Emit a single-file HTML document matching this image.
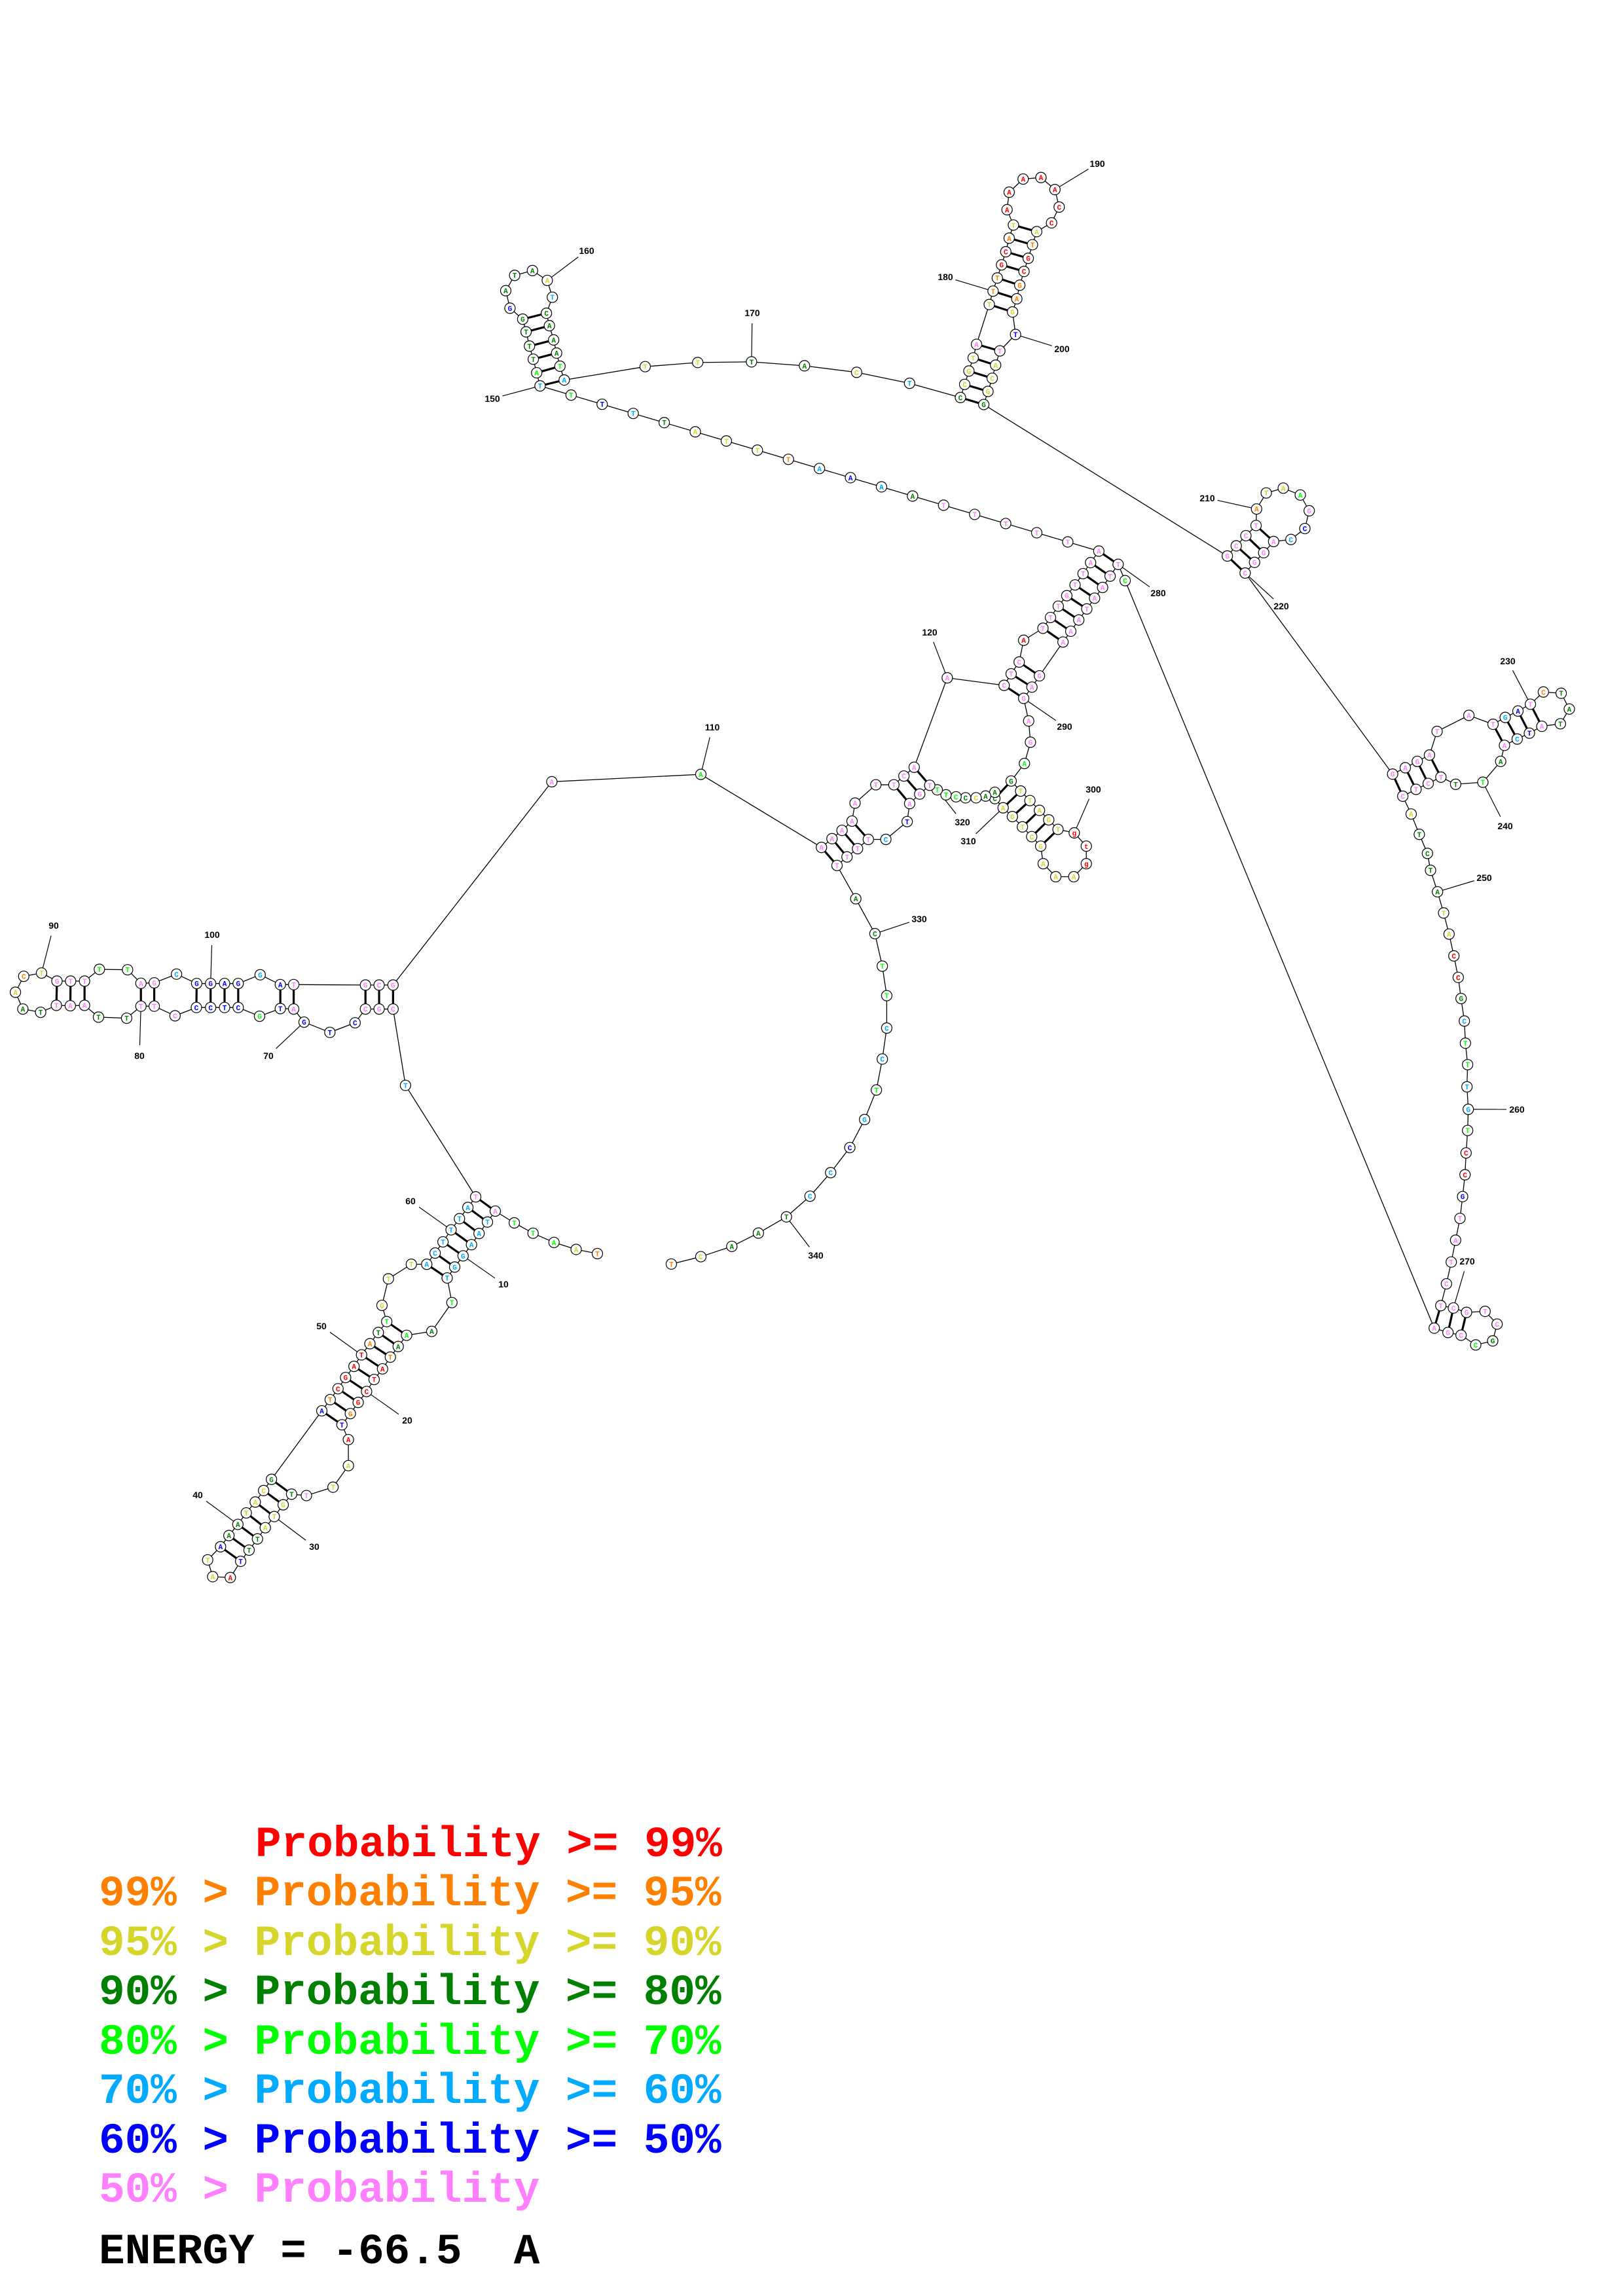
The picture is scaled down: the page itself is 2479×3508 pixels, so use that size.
<!DOCTYPE html>
<html><head><meta charset="utf-8">
<style>
html,body{margin:0;padding:0;background:#fff;}
svg{display:block;}
.nt{font-family:"Liberation Mono",monospace;font-weight:bold;font-size:11px;}
.lb{font-family:"Liberation Sans",sans-serif;font-weight:bold;font-size:14px;}
.lg{font-family:"Liberation Mono",monospace;font-weight:bold;font-size:66px;white-space:pre;}
</style></head><body>
<svg id="s" width="2479" height="3508" viewBox="0 0 2479 3508" xmlns="http://www.w3.org/2000/svg">
<g id="lines"></g><g id="nodes"></g><g id="labels"></g>
<g class="lg">
<text x="390" y="2836" fill="#ff0000">Probability &gt;=&#160;99%</text>
<text x="151" y="2911" fill="#ff8000">99% &gt; Probability &gt;=&#160;95%</text>
<text x="151" y="2987" fill="#d5d52b">95% &gt; Probability &gt;=&#160;90%</text>
<text x="151" y="3062" fill="#008000">90% &gt; Probability &gt;=&#160;80%</text>
<text x="151" y="3138" fill="#00ff00">80% &gt; Probability &gt;=&#160;70%</text>
<text x="151" y="3213" fill="#00aaff">70% &gt; Probability &gt;=&#160;60%</text>
<text x="151" y="3289" fill="#0000ff">60% &gt; Probability &gt;=&#160;50%</text>
<text x="151" y="3364" fill="#ff80ff">50% &gt; Probability</text>
<text x="151" y="3458" fill="#000">ENERGY = -66.5&#160;&#160;A</text>
</g>
</svg>
<script>
var C={r:"#ff0000",o:"#ff8000",y:"#d5d52b",D:"#008000",g:"#00ff00",c:"#00aaff",b:"#0000ff",p:"#ff80ff"};
var N={};
function F(ox,oy,fx,fy,list){list.forEach(function(a){N[a[0]]=[ox+a[1]/fx,oy+a[2]/fy,a[3],a[4]];});}
F(280,1800,2.34,2.34,[
[1,1480,270,"T","o"],[2,1404,255,"A","y"],[3,1325,230,"A","g"],[4,1250,197,"T","g"],[5,1183,160,"T","g"],
[6,1115,118,"A","p"],[7,1087,157,"T","c"],[8,1057,198,"A","c"],[9,1030,238,"A","c"],[10,1000,278,"G","c"],
[11,970,318,"G","c"],[12,943,357,"T","c"],[13,960,445,"T","g"],[14,888,548,"A","D"],[15,798,562,"A","g"],
[16,768,602,"A","D"],[17,740,640,"T","o"],[18,712,682,"A","r"],[19,682,720,"T","r"],[20,655,763,"C","r"],
[21,625,802,"G","r"],[22,597,842,"G","o"],[23,567,882,"T","b"],[24,590,935,"A","r"],[25,590,1028,"A","y"],
[26,535,1105,"T","y"],[27,440,1135,"T","p"],[28,387,1130,"T","D"],[29,357,1168,"G","y"],[30,325,1210,"T","y"],
[31,293,1250,"A","y"],[32,265,1290,"T","D"],[33,235,1330,"T","D"],[34,205,1370,"T","b"],[35,168,1428,"A","r"],
[36,105,1425,"A","y"],[37,87,1365,"T","y"],[38,133,1318,"A","b"],[39,163,1278,"A","D"],[40,195,1238,"A","D"],
[41,225,1197,"T","y"],[42,257,1158,"A","y"],[43,287,1117,"C","y"],[44,315,1077,"G","D"],[45,495,832,"A","b"],
[46,525,792,"T","o"],[47,553,753,"C","r"],[48,580,713,"G","r"],[49,610,673,"A","r"],[50,637,632,"T","r"],
[51,667,592,"A","o"],[52,697,552,"T","D"],[53,727,513,"T","g"],[54,710,455,"G","y"],[55,733,360,"T","y"],
[56,815,308,"T","y"],[57,870,308,"A","c"],[58,900,268,"C","c"],[59,928,228,"T","c"],[60,957,185,"T","c"],
[61,987,145,"T","c"],[62,1017,105,"A","c"],[63,1045,67,"T","p"]]);
F(0,1380,2.207,3,[
[64,1367,835,"T","c"],[65,1325,485,"C","p"],[66,1278,485,"G","p"],[67,1232,485,"C","p"],[68,1197,548,"C","b"],
[69,1112,592,"T","b"],[70,1025,545,"G","b"],[71,990,485,"A","p"],[72,945,483,"T","b"],[73,875,518,"G","g"],
[74,803,478,"C","b"],[75,757,478,"T","b"],[76,710,478,"C","b"],[77,662,478,"C","b"],[78,590,516,"C","p"],
[79,520,472,"T","p"],[80,475,472,"T","p"],[81,427,527,"T","D"],[82,332,522,"T","D"],[83,285,468,"A","p"],
[84,237,470,"A","p"],[85,190,468,"T","p"],[86,137,500,"T","D"],[87,77,485,"A","D"],[88,52,408,"A","y"],
[89,80,335,"C","o"],[90,140,320,"T","y"],[91,192,357,"G","p"],[92,238,357,"T","p"],[93,285,357,"T","p"],
[94,335,303,"T","g"],[95,430,305,"T","g"],[96,475,367,"A","p"],[97,520,365,"G","p"],[98,595,325,"C","c"],
[99,663,368,"G","b"],[100,710,368,"G","b"],[101,757,368,"A","b"],[102,803,368,"G","b"],[103,877,328,"G","c"],
[104,945,373,"A","b"],[105,990,373,"T","p"],[106,1232,375,"G","p"],[107,1278,375,"C","p"],[108,1325,375,"G","p"]]);
F(0,0,1/2.2536,1/2.2536,[[109,374,530,"A","p"],[110,475,525,"A","g"],
[329,593,633,"C","D"],[330,598,655,"T","g"],[331,601,675,"T","g"],[332,601,697,"C","c"],[333,598,718,"C","c"],
[334,594,739,"T","g"],[335,586,759,"G","c"],[336,576,778,"C","b"],[337,563,795,"C","c"],[338,549,811,"C","c"],
[339,533,825,"T","D"],[340,514,836,"A","D"],[341,496,845,"A","D"],[342,475,852,"C","y"],[343,455,857,"T","o"]]);
F(1200,780,2.613,2.613,[
[111,143,1345,"A","p"],[112,185,1310,"A","p"],[113,225,1277,"A","p"],[114,265,1240,"A","p"],[115,277,1168,"A","p"],
[116,360,1095,"T","p"],[117,432,1095,"T","p"],[118,472,1060,"C","p"],[119,513,1025,"A","p"],[120,645,668,"A","p"],
[121,872,698,"C","p"],[122,900,652,"T","p"],[123,932,605,"C","p"],[124,950,518,"A","r"],[125,1027,470,"T","p"],
[126,1057,427,"T","p"],[127,1088,382,"T","p"],[128,1122,340,"G","p"],[129,1155,297,"T","p"],[130,1187,252,"T","p"],
[131,1217,208,"A","p"],[132,1250,162,"A","p"],
[279,1355,280,"C","g"],[280,1327,215,"T","p"],[281,1295,262,"T","p"],[282,1265,307,"A","p"],[283,1233,350,"A","p"],
[284,1202,393,"T","p"],[285,1170,437,"A","p"],[286,1138,482,"A","p"],[287,1107,525,"A","p"],[288,1013,660,"G","p"],
[289,983,705,"A","p"],[290,950,750,"G","p"],[291,970,840,"A","p"],[292,977,925,"G","p"],[293,953,1010,"A","g"],
[294,900,1080,"G","D"],[295,938,1120,"T","y"],[296,975,1158,"T","y"],[297,1013,1197,"A","y"],[298,1050,1235,"G","y"],
[299,1087,1273,"T","y"],[300,1152,1287,"g","r"],[301,1200,1340,"t","r"],[302,1200,1410,"g","r"],[303,1150,1462,"A","y"],
[304,1078,1462,"A","y"],[305,1028,1410,"A","y"],[306,1018,1340,"G","y"],[307,982,1302,"C","y"],[308,945,1263,"T","y"],
[309,905,1222,"G","y"],[310,868,1187,"A","y"],[311,835,1150,"C","D"],[312,835,1125,"A","D"],[313,798,1140,"A","D"],
[314,760,1147,"C","y"],[315,718,1147,"C","D"],[316,680,1143,"C","g"],[317,640,1135,"T","g"],[318,605,1115,"T","g"],
[319,575,1097,"T","p"],[320,535,1132,"G","p"],[321,495,1170,"A","p"],[322,485,1242,"T","b"],[323,400,1313,"C","c"],
[324,330,1313,"T","p"],[325,287,1350,"T","p"],[326,245,1383,"T","p"],[327,205,1417,"T","p"],[328,280,1550,"A","D"]]);
F(700,200,1.545,2.99,[
[150,193,1165,"T","c"],[151,185,1105,"A","g"],[152,177,1043,"T","D"],[153,168,983,"T","D"],[154,160,918,"T","D"],
[155,152,860,"G","D"],[156,122,810,"G","b"],[157,112,730,"A","D"],[158,133,660,"T","D"],[159,175,638,"A","D"],
[160,210,683,"A","y"],[161,222,760,"T","c"],[162,208,833,"C","D"],[163,215,890,"A","D"],[164,225,955,"A","D"],
[165,232,1015,"A","D"],[166,240,1075,"T","g"],[167,250,1138,"A","c"],[168,441,1077,"T","y"],[169,565,1058,"T","y"],
[170,692,1055,"T","D"],[171,817,1073,"A","D"],[172,940,1103,"C","y"],[173,1065,1153,"T","c"],[174,1185,1218,"C","D"],
[175,1195,1158,"C","y"],[176,1205,1097,"G","y"],[177,1215,1037,"T","y"],[178,1223,975,"A","p"],[179,1253,793,"T","y"],
[180,1262,732,"T","o"],[181,1272,672,"T","o"],[182,1282,612,"G","r"],[183,1292,552,"C","r"],[184,1300,490,"A","o"],
[185,1310,430,"T","y"],[186,1295,360,"A","r"],[187,1300,280,"A","r"],[188,1333,220,"A","r"],[189,1375,213,"A","r"],
[190,1408,268,"A","r"],[191,1418,348,"C","r"],[192,1400,420,"C","r"],[193,1365,460,"A","y"],[194,1355,520,"T","o"],
[195,1345,582,"G","r"],[196,1335,642,"C","r"],[197,1325,705,"G","o"],[198,1318,767,"A","o"],[199,1308,827,"G","y"],
[200,1315,930,"T","b"],[201,1278,1005,"T","p"],[202,1268,1070,"A","y"],[203,1260,1130,"C","y"],[204,1250,1190,"G","y"],
[205,1240,1250,"G","D"]]);
F(1830,700,2.575,2.575,[
[206,115,385,"G","p"],[207,150,345,"C","p"],[208,188,305,"C","p"],[209,228,265,"T","p"],[210,230,200,"A","o"],
[211,268,137,"T","y"],[212,335,118,"A","y"],[213,402,145,"A","g"],[214,437,207,"G","p"],[215,420,277,"C","b"],
[216,365,320,"C","c"],[217,297,328,"A","p"],[218,258,372,"G","p"],[219,222,410,"G","p"],[220,185,452,"C","p"],
[221,765,1243,"G","p"],[222,815,1218,"A","p"],[223,862,1193,"G","p"],[224,910,1168,"A","p"],[225,940,1075,"T","p"],
[226,1065,1012,"A","p"],[227,1160,1047,"T","p"],[228,1208,1020,"G","c"],[229,1258,995,"A","b"],[230,1307,968,"T","p"],
[231,1358,920,"C","o"],[232,1428,925,"T","D"],[233,1460,987,"A","D"],[234,1425,1045,"T","D"],[235,1352,1055,"A","p"],
[236,1303,1082,"T","b"],[237,1255,1105,"C","c"],[238,1205,1130,"A","p"],[239,1190,1193,"A","D"],[240,1120,1275,"T","g"],
[241,1013,1283,"T","D"],[242,955,1255,"T","p"],[243,905,1280,"C","p"],[244,857,1303,"T","p"],[245,805,1330,"C","p"],
[246,838,1400,"A","y"],[247,870,1480,"T","D"],[248,902,1555,"C","D"]]);
F(2150,1300,3,1.95,[
[249,105,58,"T","D"],[250,137,122,"A","D"],[251,165,185,"T","y"],[252,190,248,"A","y"],[253,212,313,"C","r"],
[254,232,377,"C","r"],[255,245,440,"G","D"],[256,260,507,"C","c"],[257,265,573,"T","g"],[258,275,637,"T","g"],
[259,272,703,"T","c"],[260,278,770,"G","c"],[261,275,833,"T","g"],[262,268,900,"C","r"],[263,263,965,"C","r"],
[264,252,1030,"G","b"],[265,240,1095,"T","p"],[266,220,1160,"A","p"],[267,200,1225,"T","p"],[268,178,1290,"C","p"],
[269,152,1355,"T","p"],[270,210,1362,"C","p"],[271,270,1375,"G","p"],[272,355,1372,"T","p"],[273,410,1410,"C","p"],
[274,390,1460,"G","D"],[275,312,1472,"C","g"],[276,245,1443,"C","p"],[277,185,1435,"G","p"],[278,122,1422,"A","p"]]);
(function(){var a=N[132],b=N[150];
var cols={133:"p",134:"p",135:"p",136:"p",137:"p",138:"D",139:"c",140:"b",141:"c",142:"o",143:"y",144:"y",145:"y",146:"D",147:"c",148:"b",149:"g"};
var lets={133:"T",134:"T",135:"T",136:"T",137:"T",138:"A",139:"A",140:"A",141:"A",142:"T",143:"T",144:"T",145:"A",146:"T",147:"T",148:"T",149:"T"};
for(var i=133;i<150;i++){var t=(i-132)/18;N[i]=[a[0]+(b[0]-a[0])*t,a[1]+(b[1]-a[1])*t,lets[i],cols[i]];}})();
var pairs=[[6,63],[7,62],[8,61],[9,60],[10,59],[11,58],[12,57],[15,53],[16,52],[17,51],[18,50],[19,49],[20,48],[21,47],[22,46],[23,45],
[28,44],[29,43],[30,42],[31,41],[32,40],[33,39],[34,38],
[106,67],[107,66],[108,65],[104,72],[105,71],[99,77],[100,76],[101,75],[102,74],[96,80],[97,79],[91,85],[92,84],[93,83],
[111,327],[112,326],[113,325],[114,324],[117,321],[118,320],[119,319],[121,290],[122,289],[123,288],
[125,287],[126,286],[127,285],[128,284],[129,283],[130,282],[131,281],[132,280],
[294,311],[295,310],[296,309],[297,308],[298,307],[299,306],
[150,167],[151,166],[152,165],[153,164],[154,163],[155,162],
[174,205],[175,204],[176,203],[177,202],[178,201],[179,199],[180,198],[181,197],[182,196],[183,195],[184,194],[185,193],
[206,220],[207,219],[208,218],[209,217],[221,245],[222,244],[223,243],[224,242],[227,238],[228,237],[229,236],[230,235],
[269,278],[270,277],[271,276]];
var labels=[[10,10,769,1962],[20,20,622,2170],[30,30,480,2363],[40,40,302,2284],[50,50,491,2026],[60,60,627,1835],
[70,70,410,1613],[80,80,213,1613],[90,90,82,1414],[100,100,324,1428],[110,110,1088,1111],[120,120,1420,966],
[150,150,752,609],[160,160,896,383],[170,170,1149,478],[180,180,1444,423],[190,190,1676,250],[200,200,1622,533],
[210,210,1844,761],[220,220,1957,926],[230,230,2303,1010],[240,240,2299,1262],[250,250,2267,1341],[260,260,2317,1695],
[270,270,2241,1927],[280,280,1769,906],[290,290,1626,1110],[300,300,1670,1206],[310,310,1479,1285],[320,318,1470,1256],
[330,329,1404,1404],[340,339,1246,1918]];
var ns="http://www.w3.org/2000/svg";
function el(t,at,p,txt){var e=document.createElementNS(ns,t);for(var k in at)e.setAttribute(k,at[k]);if(txt!=null)e.textContent=txt;p.appendChild(e);return e;}
var gl=document.getElementById("lines"),gn=document.getElementById("nodes"),gb=document.getElementById("labels");
for(var i=1;i<343;i++){if(N[i]&&N[i+1])el("line",{x1:N[i][0],y1:N[i][1],x2:N[i+1][0],y2:N[i+1][1],stroke:"#000","stroke-width":1.3},gl);}
pairs.forEach(function(p){var a=N[p[0]],b=N[p[1]];el("line",{x1:a[0],y1:a[1],x2:b[0],y2:b[1],stroke:"#000","stroke-width":3.2},gl);});
labels.forEach(function(l){var n=N[l[1]];var dx=l[2]-n[0],dy=l[3]-n[1];var d=Math.sqrt(dx*dx+dy*dy);var s=(d-16)/d;
el("line",{x1:n[0],y1:n[1],x2:n[0]+dx*s,y2:n[1]+dy*s,stroke:"#000","stroke-width":1.2},gl);
el("text",{x:l[2],y:l[3]+5,"text-anchor":"middle","class":"lb",fill:"#000"},gb,String(l[0]));});
for(var k in N){var n=N[k];el("circle",{cx:n[0],cy:n[1],r:8,fill:"#fff",stroke:"#000","stroke-width":1.2},gn);
el("text",{x:n[0],y:n[1]+4,"text-anchor":"middle","class":"nt",fill:C[n[3]]},gn,n[2]);}
</script>
</body></html>
